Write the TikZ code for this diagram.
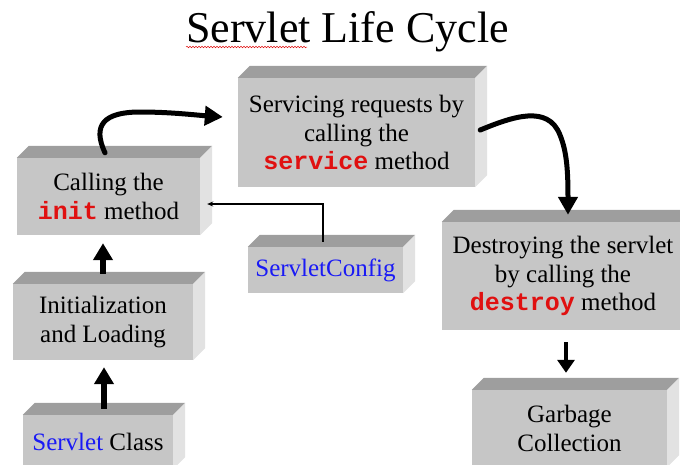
\documentclass[tikz,border=0pt]{standalone}
\usepackage{fontspec}
\setmainfont{Liberation Serif}
\setmonofont{Liberation Mono}
\usetikzlibrary{arrows.meta,calc,decorations.pathmorphing}

\definecolor{frontgray}{HTML}{C6C6C6}
\definecolor{topgray}{HTML}{9E9E9E}
\definecolor{sidegray}{HTML}{E2E2E2}
\definecolor{codered}{HTML}{E01010}
\definecolor{nameblue}{HTML}{1A1AF5}

\tikzset{
  face/.style={fill=frontgray, draw=none, inner sep=0pt, align=center,
    font=\fontsize{25}{28.5}\selectfont},
  topface/.style={fill=topgray},
  sideface/.style={fill=sidegray},
  bigarrow/.style={line width=6pt, -{Triangle[length=17pt,width=19pt]}},
  curvearrow/.style={line width=5pt, line cap=round,
    -{Triangle[length=18pt,width=19pt]}},
  smallarrow/.style={line width=4pt, -{Triangle[length=13pt,width=17pt]}},
  thinarrow/.style={line width=1.4pt, -{Stealth[length=6pt,width=5pt]}},
}

% a block with a front face, a top face and a right face
\newcommand\slab[3]{%
  \node[face,#2] (#1) {#3};
  \fill[topface] (#1.north west) -- ++(12,-12)
    -- ([shift={(12,-12)}]#1.north east) -- (#1.north east) -- cycle;
  \fill[sideface] (#1.north east) -- ++(12,-12)
    -- ([shift={(12,-12)}]#1.south east) -- (#1.south east) -- cycle;
}
\newcommand\code[1]{{\color{codered}\ttfamily\bfseries #1}}
\newcommand\cname[1]{{\color{nameblue}#1}}

\begin{document}
\begin{tikzpicture}[x=1pt, y=-1pt]
\useasboundingbox (0,0) rectangle (680,464);
\clip (0,0) rectangle (680,464);

% title
\node[inner sep=0pt, anchor=base, font=\fontsize{44}{50}\selectfont]
  (title) at (347.5,42) {Servlet Life Cycle};
\draw[codered, line width=0.5pt,
      decorate, decoration={snake, amplitude=0.8pt, segment length=3pt}]
  ($(title.base west)+(0,5)$) -- ($(title.base west)+(121,5)$);

% blocks
\slab{serv}{at={(356.5,132.5)}, minimum width=237pt, minimum height=109pt}
  {Servicing requests by\\calling the\\\code{service} method}
\slab{init}{at={(108.5,196.5)}, minimum width=183pt, minimum height=77pt}
  {Calling the\\\code{init} method}
\slab{cfg}{at={(325.5,270)}, minimum width=155pt, minimum height=46pt}
  {\cname{ServletConfig}}
\slab{destroy}{at={(563,276)}, minimum width=242pt, minimum height=108pt}
  {Destroying the servlet\\by calling the\\\code{destroy} method}
\slab{initld}{at={(103,322)}, minimum width=180pt, minimum height=76pt}
  {Initialization\\and Loading}
\slab{gc}{at={(569.5,428.5)}, minimum width=195pt, minimum height=77pt}
  {Garbage\\Collection}
\slab{cls}{at={(98,442)}, minimum width=150pt, minimum height=54pt}
  {\cname{Servlet} Class}

% connectors
\coordinate (clsTop) at ($(cls.north)+(6,-6)$);
\coordinate (ldTop) at ($(initld.north)+(0,-10)$);
\draw[bigarrow] (clsTop) -- (clsTop |- {$(initld.south)+(0,7)$});
\draw[bigarrow] (ldTop) -- (ldTop |- {$(init.south)+(0,8)$});

\draw[curvearrow] ($(init.north)+(-3.5,-5)$)
  .. controls (92,125) and (104,112) .. (140,112)
  .. controls (170,112) and (195,115) .. ($(serv.west)+(-15,-15.5)$);

\draw[curvearrow] ($(serv.east)+(5,-2.5)$)
  .. controls (512,117) and (548,104) .. (560,135)
  .. controls (567,152) and (568,172) .. ($(destroy.north)+(5,-7)$);

\coordinate (dsBot) at ($(destroy.south)+(3,12)$);
\draw[smallarrow] (dsBot) -- (dsBot |- {$(gc.north)+(0,-17)$});

\draw[thinarrow] ($(cfg.north)+(-2.5,-5)$) |- ($(init.east)+(7,7.5)$);
\end{tikzpicture}
\end{document}
